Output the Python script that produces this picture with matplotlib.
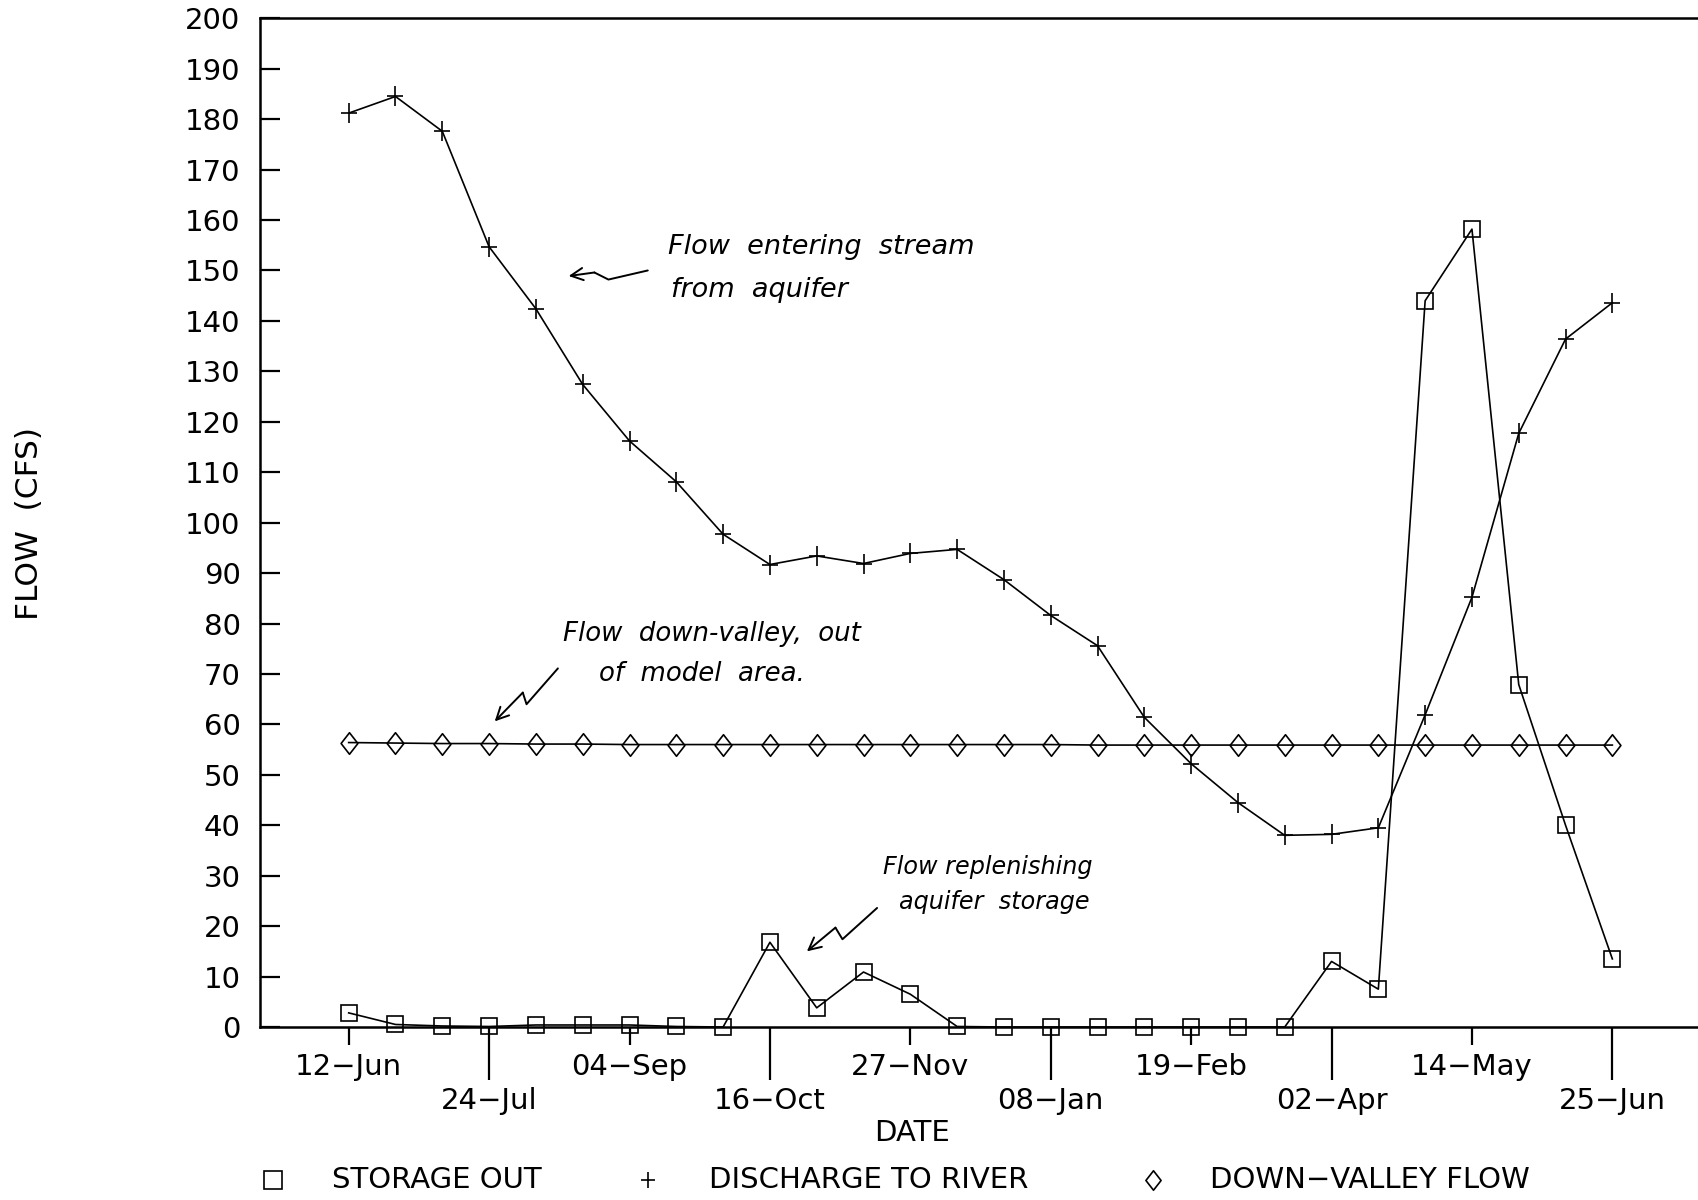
import matplotlib
matplotlib.use("Agg")
import matplotlib.pyplot as plt
from matplotlib.path import Path
from matplotlib.lines import Line2D

# Two-week model stress periods, June through the following June
dates = ["12-Jun", "26-Jun", "10-Jul", "24-Jul", "07-Aug", "21-Aug", "04-Sep",
         "18-Sep", "02-Oct", "16-Oct", "30-Oct", "13-Nov", "27-Nov", "11-Dec",
         "25-Dec", "08-Jan", "22-Jan", "05-Feb", "19-Feb", "05-Mar", "19-Mar",
         "02-Apr", "16-Apr", "30-Apr", "14-May", "28-May", "11-Jun", "25-Jun"]

# Flows in cubic feet per second
storage_out = [2.8, 0.5, 0.2, 0.1, 0.4, 0.4, 0.4, 0.1, 0.0, 16.8,
               3.8, 10.9, 6.5, 0.1, 0.0, 0.0, 0.0, 0.0, 0.0, 0.0,
               0.0, 13.0, 7.5, 144.0, 158.2, 67.9, 40.0, 13.5]
discharge_to_river = [181.2, 184.5, 177.6, 154.7, 142.4, 127.4, 116.2, 108.1,
                      97.7, 91.7, 93.4, 91.9, 93.9, 94.7, 88.7, 81.6, 75.6,
                      61.4, 52.2, 44.5, 38.0, 38.2, 39.5, 61.9, 85.2, 117.7,
                      136.4, 143.6]
down_valley_flow = [56.4, 56.3, 56.2, 56.2, 56.1, 56.1, 56.0, 56.0, 56.0, 56.0,
                    56.0, 56.0, 56.0, 56.0, 56.0, 56.0, 55.9, 55.9, 55.9, 55.9,
                    55.9, 55.9, 55.9, 55.9, 55.9, 55.9, 55.9, 55.9]

series_names = ["STORAGE OUT", "DISCHARGE TO RIVER", "DOWN-VALLEY FLOW"]
y_ticks = list(range(0, 201, 10))

FS = 21
plt.rcParams["font.family"] = ["DejaVu Sans"]

# Plotter-style symbols: a tall plus and a narrow diamond
plus_marker = Path([(-0.4, 0), (0.4, 0), (0, -0.5), (0, 0.5)],
                   [Path.MOVETO, Path.LINETO, Path.MOVETO, Path.LINETO])
diamond_marker = Path([(0, -0.5), (0.39, 0), (0, 0.5), (-0.39, 0), (0, -0.5)],
                      [Path.MOVETO, Path.LINETO, Path.LINETO, Path.LINETO,
                       Path.CLOSEPOLY])

styles = [dict(marker="s", ms=11.5),
          dict(marker=plus_marker, ms=13.7),
          dict(marker=diamond_marker, ms=15.5)]

W, H = 1698, 1200
fig = plt.figure(figsize=(W / 100, H / 100), dpi=100)
ax = fig.add_axes([260 / W, 1 - 1027 / H, (W - 260) / W, (1027 - 18.3) / H])

x = list(range(len(dates)))
for vals, st in zip([storage_out, discharge_to_river, down_valley_flow], styles):
    ax.plot(x, vals, color="black", lw=1.2, mfc="none", mec="black",
            mew=1.2, clip_on=False, **st)

ax.set_xlim(-1.895, 28.83)
ax.set_ylim(0, 200)

for side in ("top", "left", "bottom"):
    ax.spines[side].set_linewidth(1.8)
ax.spines["right"].set_visible(False)

ax.set_yticks(y_ticks, labels=[str(v) for v in y_ticks])
ax.tick_params(axis="y", direction="in", length=14.5, width=1.6, pad=14,
               labelsize=FS)

# Tick labels alternate between two rows: short ticks above, long ticks below
lbl = [d.replace("-", "\u2212") for d in dates]
upper_idx = x[0::6]
lower_idx = x[3::6]
ax.set_xticks(lower_idx, labels=[lbl[i] for i in lower_idx])
ax.set_xticks(upper_idx, labels=[lbl[i] for i in upper_idx], minor=True)
ax.tick_params(axis="x", which="major", direction="out", length=38, width=1.6,
               pad=5, labelsize=FS)
ax.tick_params(axis="x", which="minor", direction="out", length=13, width=1.6,
               pad=6, labelsize=FS)

fig.text(30 / W, 1 - 483 * 1698 / 1568 / H, "FLOW  (CFS)", rotation=90,
         fontsize=22.5, ha="center", va="center")
fig.text(912 / W, 1 - 1133 / H, "DATE", fontsize=FS, ha="center", va="center")

# Legend row along the bottom
leg_y = 1 - 1180 / H
leg_marker_x = [273, 648, 1153]
leg_text_x = [332, 709, 1210]
leg_ms = [12.5, 12.0, 14.0]
for name, st, mx, tx, ms in zip(series_names, styles, leg_marker_x, leg_text_x, leg_ms):
    fig.add_artist(Line2D([mx / W], [leg_y], marker=st["marker"], ms=ms,
                          mfc="none", mec="black", mew=1.2, ls="none",
                          transform=fig.transFigure))
    fig.text(tx / W, leg_y, name.replace("-", "\u2212"), fontsize=FS,
             ha="left", va="center")

# Hand-written notes with squiggly pointers
note_kw = dict(fontstyle="italic", fontweight="light", ha="left", va="center",
               color="black")
ax.text(6.83, 154.7, "Flow  entering  stream", fontsize=19.5, **note_kw)
ax.text(6.89, 146.1, "from  aquifer", fontsize=19.5, **note_kw)
ax.text(4.58, 78.0, "Flow  down-valley,  out", fontsize=18.7, **note_kw)
ax.text(5.34, 70.0, "of  model  area.", fontsize=18.7, **note_kw)
ax.text(11.41, 31.8, "Flow replenishing", fontsize=17.2, **note_kw)
ax.text(11.75, 24.7, "aquifer  storage", fontsize=17.2, **note_kw)


def squiggle(points):
    xs, ys = zip(*points)
    ax.plot(xs[:-1], ys[:-1], color="black", lw=1.4, solid_capstyle="round")
    ax.annotate("", xy=points[-1], xytext=points[-2],
                arrowprops=dict(arrowstyle="->", lw=1.4, color="black",
                                mutation_scale=22, shrinkA=0, shrinkB=0))


squiggle([(6.39, 150.0), (5.55, 148.2), (5.25, 149.6), (4.70, 148.9)])
squiggle([(4.47, 71.1), (3.80, 64.0), (3.72, 66.3), (3.12, 60.6)])
squiggle([(11.29, 23.6), (10.55, 17.4), (10.40, 19.7), (9.79, 15.0)])

fig.savefig("out.png", dpi=100)
